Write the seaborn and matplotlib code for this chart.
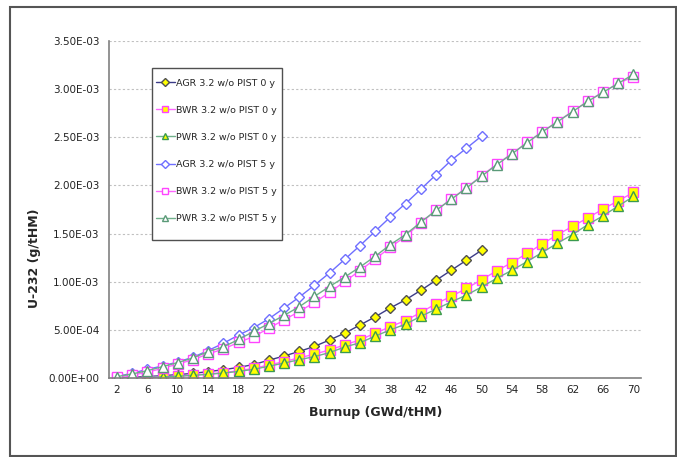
import matplotlib
matplotlib.use("Agg")
import matplotlib.pyplot as plt
import seaborn as sns
import pandas as pd
import numpy as np
from matplotlib.patches import Rectangle

burnup_50 = list(range(2, 51, 2))
burnup_70 = list(range(2, 71, 2))

agr_0y = [0.003, 0.008, 0.015, 0.024, 0.035, 0.048, 0.066, 0.086, 0.110, 0.140,
          0.185, 0.228, 0.276, 0.328, 0.395, 0.466, 0.550, 0.635, 0.728, 0.812,
          0.910, 1.014, 1.118, 1.222, 1.326]
bwr_0y = [0.000, 0.002, 0.006, 0.012, 0.020, 0.030, 0.042, 0.056, 0.075, 0.100,
          0.135, 0.170, 0.210, 0.247, 0.292, 0.344, 0.396, 0.466, 0.533, 0.597,
          0.680, 0.771, 0.847, 0.930, 1.020, 1.113, 1.199, 1.294, 1.393, 1.488,
          1.575, 1.663, 1.755, 1.840, 1.927]
pwr_0y = [0.000, 0.002, 0.005, 0.011, 0.018, 0.027, 0.038, 0.051, 0.068, 0.090,
          0.122, 0.155, 0.190, 0.222, 0.264, 0.322, 0.366, 0.435, 0.500, 0.559,
          0.640, 0.715, 0.790, 0.860, 0.945, 1.035, 1.118, 1.209, 1.304, 1.400,
          1.490, 1.593, 1.684, 1.786, 1.885]
agr_5y = [0.014, 0.050, 0.090, 0.125, 0.167, 0.215, 0.285, 0.360, 0.445, 0.522,
          0.615, 0.726, 0.840, 0.963, 1.092, 1.233, 1.375, 1.524, 1.672, 1.812,
          1.960, 2.110, 2.260, 2.385, 2.512]
bwr_5y = [0.008, 0.030, 0.060, 0.100, 0.145, 0.190, 0.250, 0.300, 0.370, 0.430,
          0.517, 0.604, 0.690, 0.785, 0.889, 1.003, 1.115, 1.236, 1.357, 1.472,
          1.611, 1.740, 1.858, 1.975, 2.100, 2.220, 2.330, 2.446, 2.558, 2.663,
          2.769, 2.875, 2.970, 3.060, 3.129]
pwr_5y = [0.014, 0.042, 0.076, 0.118, 0.160, 0.208, 0.274, 0.322, 0.400, 0.483,
          0.565, 0.650, 0.740, 0.847, 0.951, 1.049, 1.153, 1.264, 1.385, 1.490,
          1.618, 1.740, 1.855, 1.972, 2.095, 2.215, 2.327, 2.444, 2.556, 2.661,
          2.767, 2.873, 2.968, 3.059, 3.154]

labels = ["AGR 3.2 w/o PIST 0 y", "BWR 3.2 w/o PIST 0 y", "PWR 3.2 w/o PIST 0 y",
          "AGR 3.2 w/o PIST 5 y", "BWR 3.2 w/o PIST 5 y", "PWR 3.2 w/o PIST 5 y"]

series = [
    (labels[0], burnup_50, agr_0y),
    (labels[1], burnup_70, bwr_0y),
    (labels[2], burnup_70, pwr_0y),
    (labels[3], burnup_50, agr_5y),
    (labels[4], burnup_70, bwr_5y),
    (labels[5], burnup_70, pwr_5y),
]

frames = []
for name, xs, ys in series:
    frames.append(pd.DataFrame({"Burnup": xs, "U232": np.array(ys) * 1e-3, "Series": name}))
df = pd.concat(frames, ignore_index=True)

styles = {
    labels[0]: dict(color="#3c3c88", marker="D", mfc="#ffff00", mec="#505050", ms=5.5),
    labels[1]: dict(color="#ff66ff", marker="s", mfc="#ffff00", mec="#ff44ff", ms=7),
    labels[2]: dict(color="#6fb08a", marker="^", mfc="#ffff00", mec="#3a9a50", ms=7),
    labels[3]: dict(color="#6f6fff", marker="D", mfc="white", mec="#6f6fff", ms=5.5),
    labels[4]: dict(color="#ff66ff", marker="s", mfc="white", mec="#ff44ff", ms=7),
    labels[5]: dict(color="#6fb08a", marker="^", mfc="white", mec="#5a9a78", ms=7),
}

sns.set_style("white")
plt.rcParams['font.family'] = ['DejaVu Sans']

W, H = 677, 457
fig = plt.figure(figsize=(6.77, 4.57), dpi=100)
ax = fig.add_axes([0.1616, 0.1729, 0.9468 - 0.1616, 0.9103 - 0.1729])

for name in labels:
    st = styles[name]
    sub = df[df["Series"] == name]
    sns.lineplot(data=sub, x="Burnup", y="U232", ax=ax, color=st["color"],
                 marker=st["marker"], markerfacecolor=st["mfc"], markeredgecolor=st["mec"],
                 markersize=st["ms"], markeredgewidth=1.0, linewidth=1.0, label=name)

ax.set_xlim(1, 71)
ax.set_ylim(0, 3.5e-3)
yt = np.arange(0, 3.51e-3, 0.5e-3)
ax.set_yticks(yt)
ax.set_yticklabels(["0.00E+00", "5.00E-04", "1.00E-03", "1.50E-03", "2.00E-03",
                    "2.50E-03", "3.00E-03", "3.50E-03"], fontsize=7.5, color="#222222")
ax.set_xticks(list(range(2, 71, 4)))
ax.set_xticklabels([str(v) for v in range(2, 71, 4)], fontsize=7.5, color="#222222")
ax.set_xticks(list(range(4, 70, 4)), minor=True)
ax.tick_params(axis="x", which="major", length=0, pad=5)
ax.tick_params(axis="x", which="minor", length=4, width=0.8, color="#808080", direction="out")
ax.tick_params(axis="y", which="major", length=4, width=0.8, color="#808080", direction="out", pad=3)
ax.yaxis.grid(True, linestyle=(0, (2, 2)), color="#c0c0c0", linewidth=0.8)
ax.xaxis.grid(False)
for s in ["top", "right"]:
    ax.spines[s].set_visible(False)
for s in ["left", "bottom"]:
    ax.spines[s].set_color("#808080")
    ax.spines[s].set_linewidth(1.2)

ax.set_xlabel("Burnup (GWd/tHM)", fontsize=9, fontweight="bold", labelpad=8)
ax.set_ylabel("U-232 (g/tHM)", fontsize=9, fontweight="bold")
ax.yaxis.set_label_coords((41 - 109.4) / 531.6, (378 - 258) / 337)

leg = ax.legend(loc="upper left", bbox_to_anchor=(156 / W, 1 - 78.5 / H),
                bbox_transform=fig.transFigure, fontsize=6.8, frameon=False,
                labelspacing=1.92, handlelength=2.0, handletextpad=0.15, borderpad=0,
                borderaxespad=0)
for h in leg.legend_handles:
    h.set_markersize(4)
leg.set_zorder(10)

frame = Rectangle((152 / W, 1 - 240 / H), 130 / W, 172 / H, transform=fig.transFigure,
                  fill=True, facecolor="white", edgecolor="#505050", linewidth=1.0,
                  zorder=9, clip_on=False)
ax.add_patch(frame)

fig.patches.append(Rectangle((10 / W, 1 / H), 666 / W, 449 / H, transform=fig.transFigure,
                             fill=False, edgecolor="#555555", linewidth=1.5))

fig.savefig("out.png", dpi=100)
